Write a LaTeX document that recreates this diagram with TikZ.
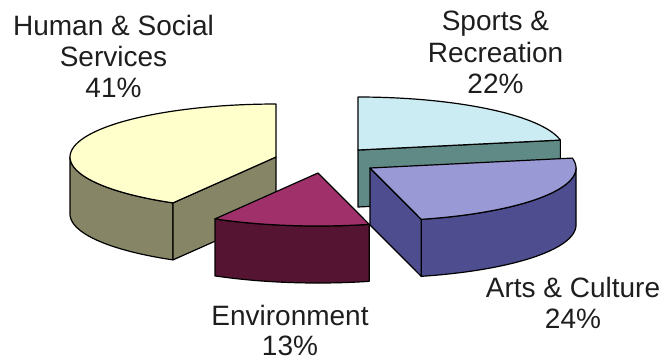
\documentclass[tikz,border=0pt]{standalone}
\usepackage{fontspec}
\setmainfont{Liberation Sans}
\definecolor{humtop}{HTML}{FFFFCC}
\definecolor{humside}{HTML}{868666}
\definecolor{spotop}{HTML}{CCECF4}
\definecolor{sposide}{HTML}{5F8A85}
\definecolor{arttop}{HTML}{9999D6}
\definecolor{artside}{HTML}{4D4D8F}
\definecolor{envtop}{HTML}{A0306A}
\definecolor{envside}{HTML}{551532}
\definecolor{labelcol}{HTML}{1E1E1E}
\begin{document}
\begin{tikzpicture}[x=1bp,y=-1bp,
  face/.style={draw=black,line width=1.2bp,line join=round},
  lbl/.style={anchor=base,inner sep=0pt,text=labelcol,font=\fontsize{28bp}{31bp}\selectfont}]
\useasboundingbox (0,0) rectangle (664,360);
\def\rx{206}\def\ry{53}\def\hh{57}
% ---- Sports & Recreation (centre 358,150; -90 .. -10.8)
\filldraw[face,fill=sposide] (358,150) -- ({358+\rx*cos(-10.8)},{150+\ry*sin(-10.8)})
  -- ({358+\rx*cos(-10.8)},{150+\hh+\ry*sin(-10.8)}) -- (358,150+\hh) -- cycle;
\filldraw[face,fill=spotop] (358,150) -- plot[domain=-90:-10.8,samples=40] ({358+\rx*cos(\x)},{150+\ry*sin(\x)}) -- cycle;
% ---- Human & Social Services (centre 276,157; 120 .. 270)
\filldraw[face,fill=humside] plot[domain=120:180,samples=30] ({276+\rx*cos(\x)},{157+\ry*sin(\x)})
  -- plot[domain=180:120,samples=30] ({276+\rx*cos(\x)},{157+\hh+\ry*sin(\x)}) -- cycle;
\filldraw[face,fill=humside] (276,157) -- ({276+\rx*cos(120)},{157+\ry*sin(120)})
  -- ({276+\rx*cos(120)},{157+\hh+\ry*sin(120)}) -- (276,157+\hh) -- cycle;
\filldraw[face,fill=humtop] (276,157) -- plot[domain=120:270,samples=60] ({276+\rx*cos(\x)},{157+\ry*sin(\x)}) -- cycle;
% ---- Environment (centre 318,173; 75.6 .. 120)
\filldraw[face,fill=envside] plot[domain=75.6:120,samples=30] ({318+\rx*cos(\x)},{173+\ry*sin(\x)})
  -- plot[domain=120:75.6,samples=30] ({318+\rx*cos(\x)},{173+\hh+\ry*sin(\x)}) -- cycle;
\filldraw[face,fill=envtop] (318,173) -- plot[domain=75.6:120,samples=30] ({318+\rx*cos(\x)},{173+\ry*sin(\x)}) -- cycle;
% ---- Arts & Culture (centre 370,168; -10.8 .. 75.6)
\filldraw[face,fill=artside] plot[domain=0:75.6,samples=40] ({370+\rx*cos(\x)},{168+\ry*sin(\x)})
  -- plot[domain=75.6:0,samples=40] ({370+\rx*cos(\x)},{168+\hh+\ry*sin(\x)}) -- cycle;
\filldraw[face,fill=artside] (370,168) -- ({370+\rx*cos(75.6)},{168+\ry*sin(75.6)})
  -- ({370+\rx*cos(75.6)},{168+\hh+\ry*sin(75.6)}) -- (370,168+\hh) -- cycle;
\filldraw[face,fill=arttop] (370,168) -- plot[domain=-10.8:75.6,samples=50] ({370+\rx*cos(\x)},{168+\ry*sin(\x)}) -- cycle;
% ---- labels
\node[lbl] (hum1) at (113.5,35) {Human \& Social};
\node[lbl] (hum2) at (113.5,66) {Services};
\node[lbl] (hum3) at (113.5,97) {41\%};
\node[lbl] (spo1) at (495.5,30) {Sports \&};
\node[lbl] (spo2) at (495.5,62) {Recreation};
\node[lbl] (spo3) at (495.5,93) {22\%};
\node[lbl] (art1) at (573,297) {Arts \& Culture};
\node[lbl] (art2) at (573,328) {24\%};
\node[lbl] (env1) at (290,325) {Environment};
\node[lbl] (env2) at (290,355.5) {13\%};
\end{tikzpicture}
\end{document}
